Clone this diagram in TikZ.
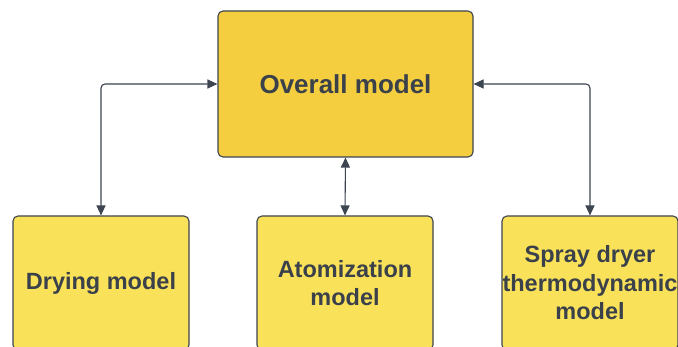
\documentclass[tikz,border=0pt]{standalone}
\usepackage{fontspec}
\setmainfont{Liberation Sans}
\usetikzlibrary{arrows.meta}
\definecolor{topfill}{HTML}{F5CE3F}
\definecolor{botfill}{HTML}{FAE15A}
\definecolor{edge}{HTML}{3D4550}
\definecolor{txt}{HTML}{3A414A}
\tikzset{
  mbox/.style={draw=edge, line width=1.1pt, rounded corners=5pt, inner sep=0pt,
    text=txt, font=\bfseries\fontsize{23.5}{28.5}\selectfont, align=center},
  topbox/.style={mbox, fill=topfill, minimum width=255pt, minimum height=146pt,
    font=\bfseries\fontsize{26}{30}\selectfont},
  botbox/.style={mbox, fill=botfill, minimum width=176pt, minimum height=134pt},
  conn/.style={draw=edge, line width=1.1pt, rounded corners=4pt,
    {Triangle[length=10pt,width=9pt]}-{Triangle[length=10pt,width=9pt]}}
}
\begin{document}
\begin{tikzpicture}[x=1pt,y=-1pt]
\useasboundingbox (0,0) rectangle (678,347);
\clip (0,0) rectangle (678,347);
\fill[white] (0,0) rectangle (678,347);
\node[topbox] (overall) at (345.5,84) {Overall model};
\node[botbox] (drying) at (101,283) {Drying model};
\node[botbox] (atom) at (345,283) {Atomization\\model};
\node[botbox] (spray) at (590,283) {Spray dryer\\thermodynamic\\model};
\draw[conn] (overall.west) -| (drying.north);
\draw[conn] (overall.east) -| (spray.north);
\draw[conn] (overall.south) -- (atom.north);
\end{tikzpicture}
\end{document}
